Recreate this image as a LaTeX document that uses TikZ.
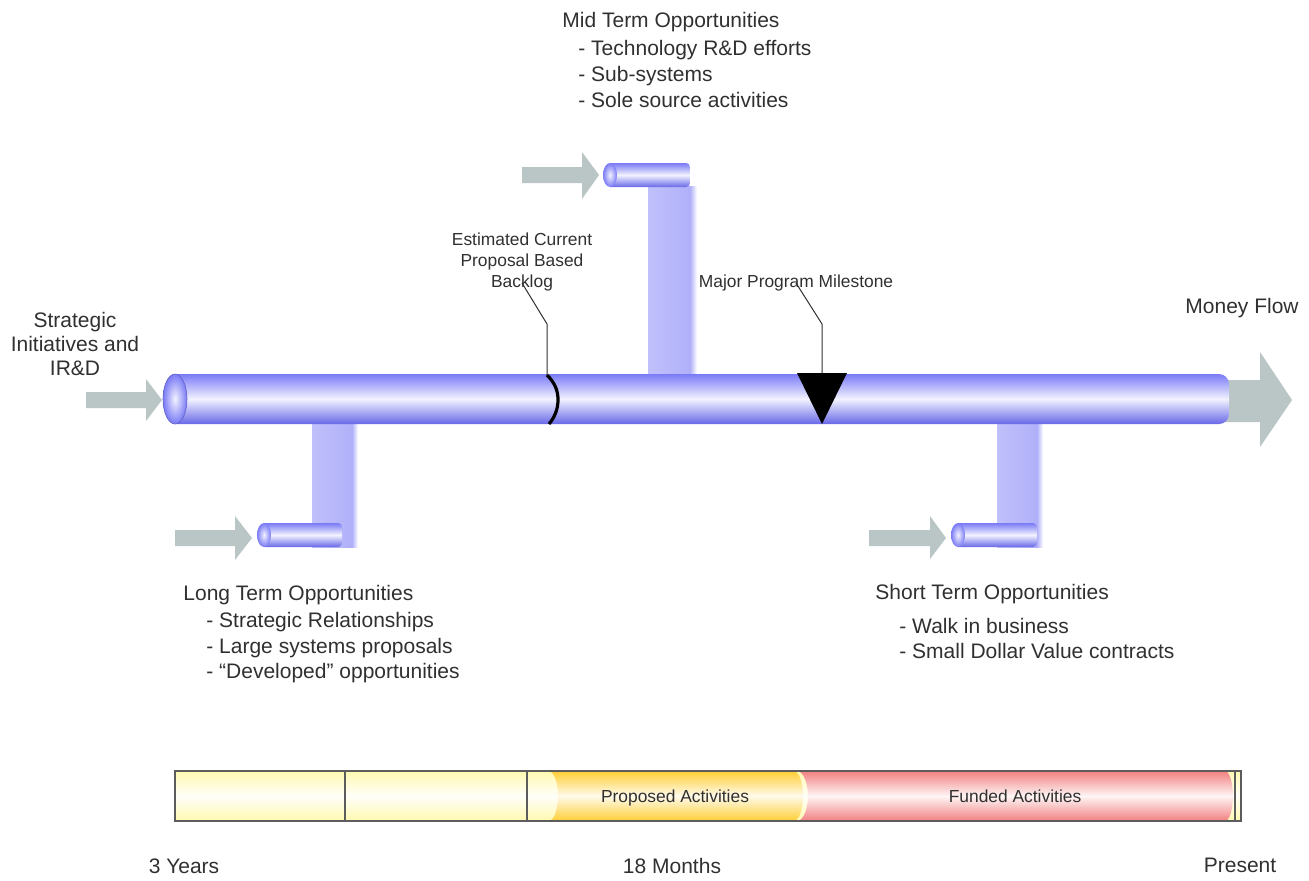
\documentclass[tikz,border=0pt]{standalone}
\usepackage{fontspec}
\setmainfont{Liberation Sans}
\definecolor{pipeedge}{RGB}{122,122,246}
\definecolor{pipelight}{RGB}{242,242,255}
\definecolor{pipedark}{RGB}{104,104,232}
\definecolor{pipeband}{RGB}{176,176,250}
\definecolor{flowgray}{RGB}{186,198,198}
\definecolor{pastyellow}{RGB}{255,249,176}
\definecolor{propgold}{RGB}{255,206,52}
\definecolor{fundred}{RGB}{242,128,128}
\definecolor{textgray}{RGB}{48,48,48}
\definecolor{framegray}{RGB}{92,92,92}
\begin{document}
\begin{tikzpicture}[x=0.5pt,y=-0.5pt,
  pipe/.style={top color=pipeedge, bottom color=pipedark, middle color=pipelight},
  pipecap/.style={inner color=pipelight, outer color=pipeedge},
  band/.style={left color=pipeband!80!white, right color=pipeband},
  bandfade/.style={left color=pipeband, right color=white},
  flow/.style={fill=flowgray},
  lbl/.style={font=\fontsize{10.5}{12}\selectfont, text=textgray, inner sep=0pt},
  note/.style={font=\fontsize{8.7}{10.5}\selectfont, text=textgray, inner sep=0pt},
  leader/.style={draw=textgray, line width=0.5pt},
  frame/.style={draw=framegray, line width=0.7pt}]
\useasboundingbox (0,0) rectangle (1309,880);

% gray input arrows
\fill[flow] (86,392) -- (146,392) -- (146,379) -- (162,400) -- (146,421) -- (146,408) -- (86,408) -- cycle;
\fill[flow] (522,167) -- (582,167) -- (582,152) -- (599,175) -- (582,199) -- (582,183) -- (522,183) -- cycle;
\fill[flow] (175,530) -- (235,530) -- (235,516) -- (252,538) -- (235,560) -- (235,546) -- (175,546) -- cycle;
\fill[flow] (869,530) -- (930,530) -- (930,516) -- (946,538) -- (930,559) -- (930,546) -- (869,546) -- cycle;
% money flow arrow
\fill[flow] (1215,380) -- (1260,380) -- (1260,352) -- (1292,400) -- (1260,447) -- (1260,422) -- (1215,422) -- cycle;

% vertical feeder bands
\shade[band] (648,186) rectangle (690,373);
\shade[bandfade] (690,186) rectangle (697,373);
\shade[band] (312,424) rectangle (352,547);
\shade[bandfade] (352,424) rectangle (358,547);
\shade[band] (997,424) rectangle (1037,547);
\shade[bandfade] (1037,424) rectangle (1043,547);

% main pipe
\shade[pipe] (175,374) {[rounded corners=5pt] -- (1229,374) -- (1229,424)} -- (175,424) -- cycle;
\shade[pipecap] (175,399) ellipse [x radius=12, y radius=25];
\draw[pipeedge!80!black, line width=0.3pt] (175,399) ellipse [x radius=12, y radius=25];

% small pipes
\shade[pipe] (610,163) {[rounded corners=2pt] -- (690,163) -- (690,187)} -- (610,187) -- cycle;
\shade[pipecap] (610,175) ellipse [x radius=7, y radius=12];
\shade[pipe] (264,523) {[rounded corners=2pt] -- (342,523) -- (342,547)} -- (264,547) -- cycle;
\shade[pipecap] (264,535) ellipse [x radius=7, y radius=12];
\shade[pipe] (958,523) {[rounded corners=2pt] -- (1037,523) -- (1037,547)} -- (958,547) -- cycle;
\shade[pipecap] (958,535) ellipse [x radius=7, y radius=12];

% markers on the main pipe
\coordinate (backlogmark) at (547,375);
\coordinate (backlogbend) at (547,324);
\draw[line width=1.6pt] (backlogmark) .. controls (556,384) and (558,392) .. (558,400) .. controls (558,410) and (554,418) .. (549,424);
\fill (797,373) -- (847,373) -- (822,424) -- cycle;
\coordinate (milemark) at (822,373);
\coordinate (milebend) at (822,324);

% labels
\node[lbl, align=center] (strat) at (75,344) {Strategic\\Initiatives and\\IR\&D};
\node[lbl, anchor=base] (moneyflow) at (1242,313) {Money Flow};

\node[lbl, anchor=base west] (midtitle) at (562,27) {Mid Term Opportunities};
\node[lbl, anchor=base west] (mid1) at (578,55) {- Technology R\&D efforts};
\node[lbl, anchor=base west] (mid2) at (578,81) {- Sub-systems};
\node[lbl, anchor=base west] (mid3) at (578,107) {- Sole source activities};

\node[lbl, anchor=base west] (longtitle) at (183,600) {Long Term Opportunities};
\node[lbl, anchor=base west] (long1) at (206,627) {- Strategic Relationships};
\node[lbl, anchor=base west] (long2) at (206,653) {- Large systems proposals};
\node[lbl, anchor=base west] (long3) at (206,678) {- “Developed” opportunities};

\node[lbl, anchor=base west] (shorttitle) at (875,599) {Short Term Opportunities};
\node[lbl, anchor=base west] (short1) at (899,633) {- Walk in business};
\node[lbl, anchor=base west] (short2) at (899,658) {- Small Dollar Value contracts};

\node[note, anchor=base] (backlog1) at (522,245) {Estimated Current};
\node[note, anchor=base] (backlog2) at (522,266) {Proposal Based};
\node[note, anchor=base] (backlog) at (522,287) {Backlog};
\node[note, anchor=base] (milestone) at (796,287) {Major Program Milestone};

% leader lines
\draw[leader] (backlog.south) ++(0,-8) coordinate (backlogtop) -- (backlogbend) -- (backlogmark);
\draw[leader] (milestone.south) ++(0,-8) coordinate (miletop) -- (milebend) -- (milemark);

% time line
\shade[top color=pastyellow, bottom color=pastyellow, middle color=white!92!pastyellow] (175,771) rectangle (1241,821);
\shade[top color=propgold, bottom color=propgold, middle color=white!90!propgold]
  (548,771) -- (793,771) .. controls (800,771) and (803,785) .. (803,796) .. controls (803,807) and (800,821) .. (793,821)
  -- (548,821) .. controls (555,821) and (558,807) .. (558,796) .. controls (558,785) and (555,771) .. (548,771) -- cycle;
\shade[top color=fundred, bottom color=fundred, middle color=white!92!fundred]
  (797,771) -- (1225,771) .. controls (1230,771) and (1233,785) .. (1233,796) .. controls (1233,807) and (1230,821) .. (1225,821)
  -- (797,821) .. controls (804,821) and (808,807) .. (808,796) .. controls (808,785) and (804,771) .. (797,771) -- cycle;
\draw[frame] (175,771) rectangle (1241,821);
\draw[frame] (345,771) -- (345,821);
\draw[frame] (527,771) -- (527,821);
\draw[frame] (1235,771) -- (1235,821);
\node[note, anchor=base] (proposed) at (675,802) {Proposed Activities};
\node[note, anchor=base] (funded) at (1015,802) {Funded Activities};

\node[lbl, anchor=base] (threeyears) at (184,873) {3 Years};
\node[lbl, anchor=base] (eighteen) at (672,873) {18 Months};
\node[lbl, anchor=base] (present) at (1240,872) {Present};
\end{tikzpicture}
\end{document}
